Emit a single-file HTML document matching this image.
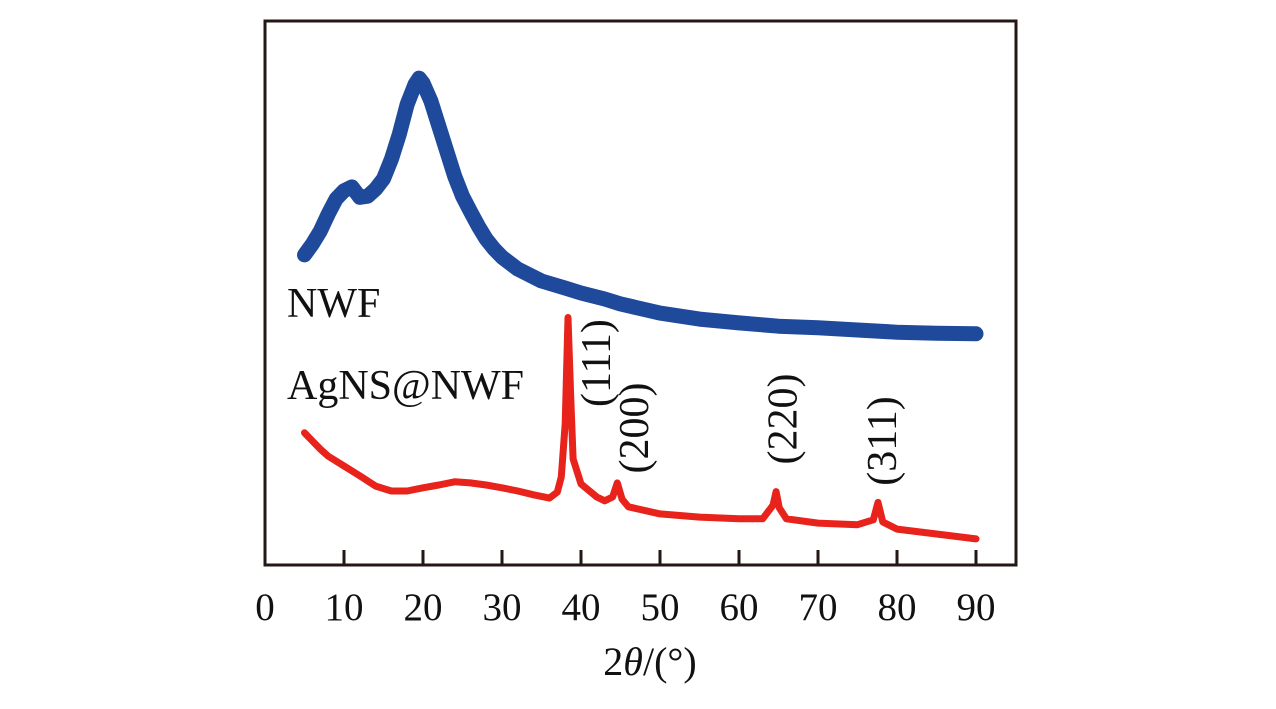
<!DOCTYPE html>
<html><head><meta charset="utf-8">
<style>
html,body{margin:0;padding:0;background:#fff;width:1276px;height:709px;overflow:hidden}
svg{display:block}
text{font-family:"Liberation Serif",serif;fill:#111}
</style></head>
<body>
<svg id="chart" width="1276" height="709" viewBox="0 0 1276 709" xmlns="http://www.w3.org/2000/svg"></svg>
<script>
const xTicks=[0,10,20,30,40,50,60,70,80,90];
const nwfX=[5,6,7,8,9,10,11,12,13,14,15,16,17,18,19,19.5,20,21,22,23,24,25,26,27,28,29,30,32,35,38,40,43,45,50,55,60,65,70,75,80,85,90];
const nwfY=[57,59,61.4,64.5,67.3,68.8,69.5,67.6,67.8,69.1,71,74.6,79.2,84.7,88.4,89.5,88.6,85.3,80.7,76.1,71.5,67.8,65,62.3,59.9,58.1,56.6,54.4,52.2,50.9,50,48.9,48,46.3,45.2,44.5,43.9,43.6,43.2,42.8,42.6,42.5];
const agX=[5,6,7,8,10,12,14,16,18,20,22,24,26,28,30,32,34,36,37,37.5,38,38.35,38.7,39,40,42,43,44,44.6,45.2,46,50,55,60,63,64.3,64.7,65.1,66,70,75,77,77.6,78.2,80,85,90];
const agY=[24.3,22.8,21.3,20,18.2,16.4,14.5,13.6,13.6,14.2,14.7,15.3,15.1,14.7,14.2,13.6,12.9,12.3,13.4,16.2,26,45.5,31,19.5,14.9,12.5,11.8,12.5,15.1,12.1,10.7,9.4,8.8,8.5,8.5,11,13.5,10.5,8.5,7.7,7.4,8.3,11.5,7.9,6.6,5.7,4.8];
const peakLabels=["(111)","(200)","(220)","(311)"];
const peakPos=[39.9,44.7,63.5,76.1];
const peakLabelY=[363,428,419,441];

const NS="http://www.w3.org/2000/svg";
const svg=document.getElementById('chart');
const L=265,R=1016,T=21,B=565;
const xs=v=>L+v*(976-265)/90;
const ys=v=>B-v*(B-T)/100;
function mk(tag,attrs){const e=document.createElementNS(NS,tag);for(const k in attrs)e.setAttribute(k,attrs[k]);svg.appendChild(e);return e;}

const frame=mk('rect',{x:L,y:T,width:R-L,height:B-T,fill:'none',stroke:'#231815','stroke-width':3});



xTicks.forEach(t=>{
  const tk=mk('line',{x1:xs(t),x2:xs(t),y1:B,y2:B-15,stroke:'#231815','stroke-width':3});
  
  
  const lb=mk('text',{x:xs(t),y:620,'text-anchor':'middle','font-size':39});
  lb.textContent=t;
  
  
});

function path(xa,ya){return xa.map((x,i)=>(i?'L':'M')+xs(x).toFixed(1)+','+ys(ya[i]).toFixed(1)).join(' ');}
const nwf=mk('path',{d:path(nwfX,nwfY),fill:'none',stroke:'#1f4a9c','stroke-width':15,'stroke-linejoin':'round','stroke-linecap':'round'});


const ag=mk('path',{d:path(agX,agY),fill:'none',stroke:'#e8231c','stroke-width':7,'stroke-linejoin':'round','stroke-linecap':'round'});



peakLabels.forEach((s,i)=>{
  const x=xs(peakPos[i])+30,y=peakLabelY[i];
  const t=mk('text',{x:x,y:y,'text-anchor':'middle','font-size':42,transform:`rotate(-90 ${x} ${y})`});
  t.textContent=s;
  
  
});

const l1=mk('text',{x:287,y:317,'font-size':42});l1.textContent='NWF';


const l2=mk('text',{x:287,y:399,'font-size':42});l2.textContent='AgNS@NWF';



const xt=mk('text',{x:650,y:675,'text-anchor':'middle','font-size':40});
xt.innerHTML='2<tspan font-style="italic">θ</tspan>/(°)';


</script>
</body></html>
